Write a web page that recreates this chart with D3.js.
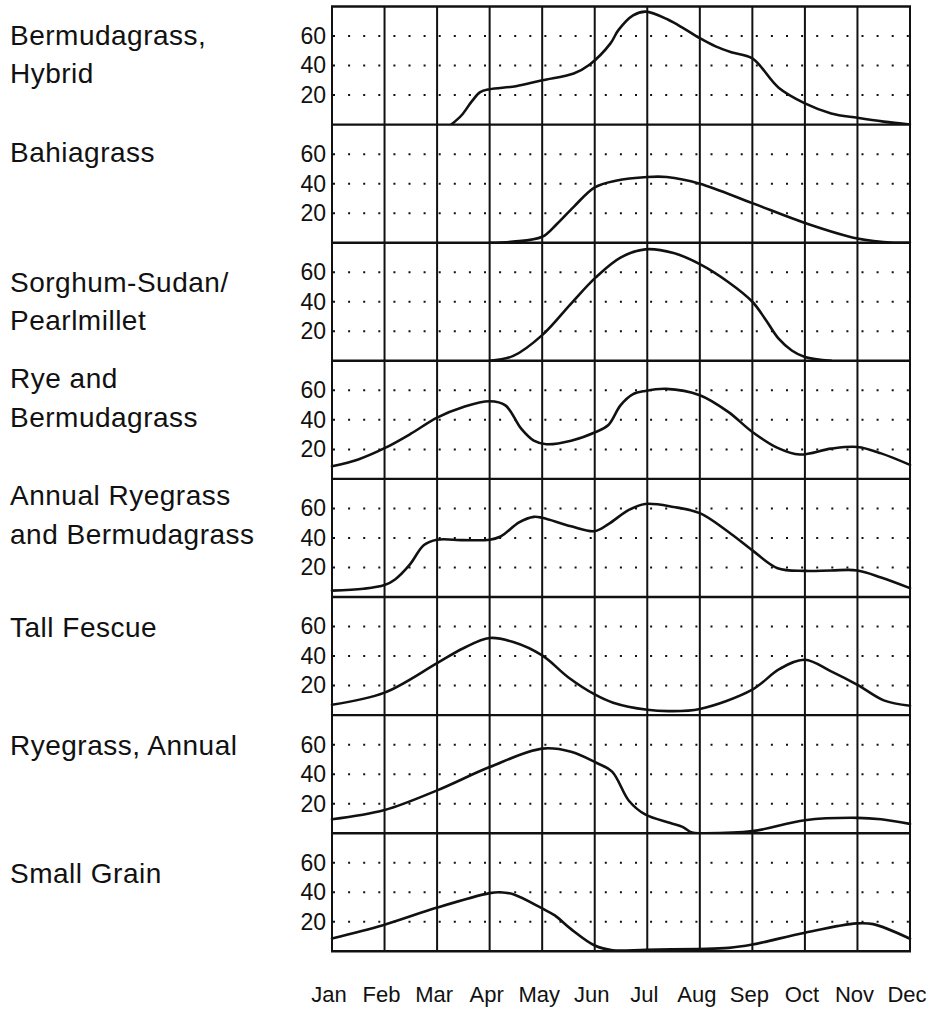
<!DOCTYPE html>
<html>
<head>
<meta charset="utf-8">
<script src="https://cdn.jsdelivr.net/npm/d3@7"></script>
<style>
  html, body { margin: 0; padding: 0; background: #fff; }
  svg { display: block; }
</style>
</head>
<body>
<svg id="chart" width="929" height="1010"></svg>
<script>
// ---------------- DATA ----------------
const months = ["Jan","Feb","Mar","Apr","May","Jun","Jul","Aug","Sep","Oct","Nov","Dec"];
const yTicks = [20, 40, 60];
const cropLabels = [
  ["Bermudagrass,", "Hybrid"],
  ["Bahiagrass"],
  ["Sorghum-Sudan/", "Pearlmillet"],
  ["Rye and", "Bermudagrass"],
  ["Annual Ryegrass", "and Bermudagrass"],
  ["Tall Fescue"],
  ["Ryegrass, Annual"],
  ["Small Grain"]
];
// [month index (0 = Jan), value]
const bermudagrassHybrid = [[2.27,0],[2.47,6.5],[2.66,15.7],[2.82,22],[3,24],[3.5,26],[4,30],[4.6,34.6],[4.9,40.5],[5.3,55],[5.45,64],[5.73,74],[5.97,76.5],[6.4,71],[6.7,65],[7,58.5],[7.3,53],[7.6,49],[8,44.8],[8.5,25],[9,14.4],[9.5,7.6],[10,4.6],[10.5,2],[11,0]];
const bahiagrass = [[3,0],[3.45,0.7],[4,4],[4.28,12.7],[4.6,24.3],[5,37.5],[5.4,42],[6,44.5],[6.37,44.5],[7,40],[8,26.8],[9,13.4],[10,2.8],[10.7,0],[11,0]];
const sorghumSudan = [[3,0],[3.45,3.3],[4,17.4],[4.55,38.8],[5.02,56.5],[5.49,69.9],[5.96,75.5],[6.5,73],[7,65.5],[7.54,53.4],[8,40],[8.25,28],[8.5,15],[8.75,7],[9,2.6],[9.5,0]];
const ryeBermuda = [[0,8.5],[0.5,13.2],[1,20.8],[1.5,30.6],[2,41.5],[2.5,48.7],[3,52.6],[3.3,49.8],[3.6,34],[3.84,25.9],[4.08,23.5],[4.55,25.9],[5.02,31.8],[5.26,36.5],[5.49,49.8],[5.73,57.4],[5.96,59.6],[6.36,61],[7,56.7],[7.54,45.4],[8,31.8],[8.48,21],[8.9,16.5],[9.5,20.5],[10,21.6],[10.45,17.3],[11,9.5]];
const annualRyeBermuda = [[0,4.3],[0.6,5.6],[1,8.1],[1.2,11.9],[1.48,21.9],[1.75,35.2],[2,38.8],[2.5,38.5],[3,38.8],[3.21,41],[3.56,50.5],[3.84,54.3],[4,53.7],[4.55,47.9],[5,44.6],[5.26,49.4],[5.65,59],[5.96,63],[6.5,61],[7,56.8],[7.54,44.2],[8,31.6],[8.48,19.5],[9,17.7],[9.5,18],[10,18],[10.45,13.2],[11,6]];
const tallFescue = [[0,7],[1,15.2],[2,35.2],[2.5,45.3],[3,52.2],[3.45,49.5],[4,40.4],[4.5,25.5],[5,14],[5.35,8.4],[6,3.6],[6.43,2.7],[7,4.2],[8,17.3],[8.52,31.3],[9,37.5],[9.48,30],[10,20.5],[10.5,10],[11,6.3]];
const ryegrassAnnual = [[0,9.4],[1,15.7],[2,29],[3,44.8],[4,57.3],[4.55,55.2],[5.02,47.9],[5.33,41.7],[5.65,22],[5.96,12.7],[6.44,6.9],[6.67,4.3],[6.85,0.4],[7.1,0],[8,1.4],[9,8.8],[10,10.4],[10.45,9.4],[11,6.3]];
const smallGrain = [[0,8.7],[0.97,17.7],[2,29.6],[3,39.4],[3.2,40],[3.45,38.6],[3.99,29.2],[4.24,24.3],[4.55,15],[5,3.9],[5.34,0.7],[5.97,1.1],[6.96,1.6],[7.55,2.3],[8,4.6],[9,12.6],[9.98,18.9],[10.3,18.4],[11,8.5]];

const seriesList = [bermudagrassHybrid, bahiagrass, sorghumSudan, ryeBermuda,
                    annualRyeBermuda, tallFescue, ryegrassAnnual, smallGrain];

// ---------------- LAYOUT ----------------
const plotLeft = 332, plotRight = 910;
const panelTop0 = 6.5, panelH = 118.1;
const labelOffsets = [38, 37.5, 49, 27.5, 26.5, 39.5, 40, 49.5];
const labelLineH = 38.5;
const font = "'Liberation Sans', Arial, Helvetica, sans-serif";

const svg = d3.select("#chart");
const defs = svg.append("defs");
const x = d3.scaleLinear().domain([0, 11]).range([plotLeft, plotRight]);
const nPanels = seriesList.length;
const bottomAll = panelTop0 + nPanels * panelH;

seriesList.forEach((data, i) => {
  const top = panelTop0 + i * panelH;
  const bottom = top + panelH;
  const y = d3.scaleLinear().domain([0, 80]).range([bottom, top]);

  defs.append("clipPath").attr("id", "clip" + i)
    .append("rect").attr("x", plotLeft - 2).attr("y", top)
    .attr("width", plotRight - plotLeft + 4).attr("height", panelH);

  const g = svg.append("g");

  // dotted gridlines
  g.selectAll("line.grid").data(yTicks).join("line")
    .attr("class", "grid")
    .attr("x1", plotLeft + 1).attr("x2", plotRight)
    .attr("y1", d => y(d)).attr("y2", d => y(d))
    .attr("stroke", "#111").attr("stroke-width", 2)
    .attr("stroke-dasharray", "2 13.1");

  // tick labels via axis
  const ax = g.append("g")
    .attr("transform", `translate(${plotLeft},0)`)
    .call(d3.axisLeft(y).tickValues(yTicks).tickSize(0).tickPadding(6).tickFormat(d3.format("d")));
  ax.select(".domain").remove();
  ax.selectAll("text").attr("font-size", 23).attr("font-family", font).attr("fill", "#111");

  // category label
  g.append("text")
    .attr("x", 10)
    .attr("y", top + labelOffsets[i])
    .attr("font-size", 28).attr("letter-spacing", 0.5)
    .attr("font-family", font).attr("fill", "#111")
    .selectAll("tspan").data(cropLabels[i]).join("tspan")
    .attr("x", 10).attr("dy", (d, k) => k === 0 ? 0 : labelLineH)
    .text(d => d);

  // curve
  const line = d3.line()
    .x(d => x(d[0])).y(d => y(d[1]))
    .curve(d3.curveCatmullRom.alpha(0.5));
  g.append("path").datum(data)
    .attr("clip-path", `url(#clip${i})`)
    .attr("d", line)
    .attr("fill", "none").attr("stroke", "#111").attr("stroke-width", 2.6)
    .attr("stroke-linejoin", "round").attr("stroke-linecap", "round");
});

// vertical month lines
svg.append("g").selectAll("line").data(d3.range(12)).join("line")
  .attr("x1", d => x(d)).attr("x2", d => x(d))
  .attr("y1", panelTop0).attr("y2", bottomAll)
  .attr("stroke", "#111").attr("stroke-width", 2);

// horizontal panel borders
svg.append("g").selectAll("line").data(d3.range(nPanels + 1)).join("line")
  .attr("x1", plotLeft - 1).attr("x2", plotRight + 1)
  .attr("y1", d => panelTop0 + d * panelH).attr("y2", d => panelTop0 + d * panelH)
  .attr("stroke", "#111").attr("stroke-width", 2.4);

// month axis labels
const mAx = svg.append("g")
  .attr("transform", `translate(0,${bottomAll})`)
  .call(d3.axisBottom(x).tickValues(d3.range(12)).tickSize(0).tickPadding(35)
        .tickFormat(i => months[i]));
mAx.select(".domain").remove();
mAx.selectAll("text").attr("font-size", 22).attr("font-family", font).attr("fill", "#111");
mAx.selectAll(".tick").attr("transform", d => `translate(${x(d) - 3},0)`);
</script>
</body>
</html>
